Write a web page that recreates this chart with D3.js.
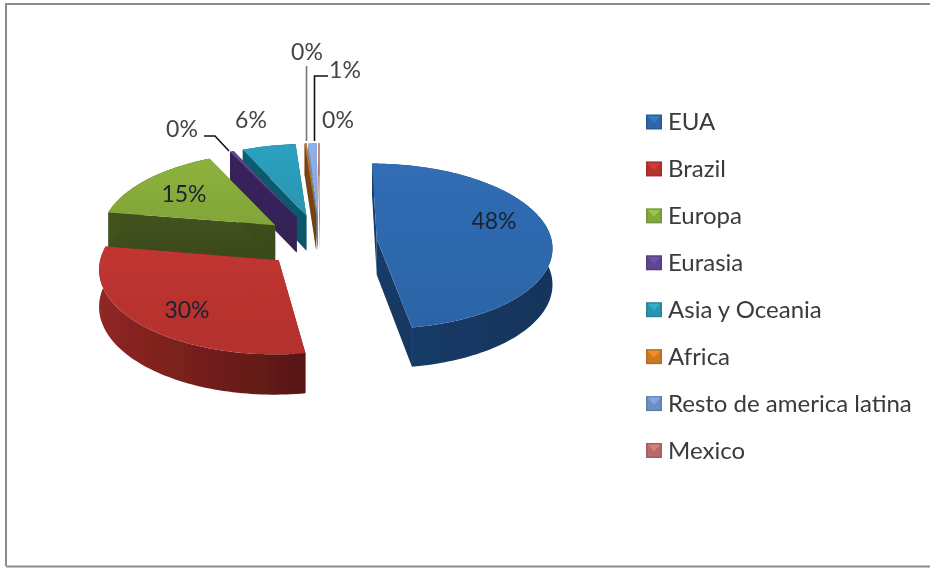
<!DOCTYPE html>
<html><head><meta charset="utf-8">
<style>html,body{margin:0;padding:0;background:#fff}svg{display:block}text{font-family:Lato,"Open Sans",sans-serif}</style>
<script src="https://cdn.jsdelivr.net/npm/d3@7"></script></head><body><div id="c"></div>
<script>
const categories=["EUA","Brazil","Europa","Eurasia","Asia y Oceania","Africa","Resto de america latina","Mexico"];
const shares=[47.5,30.1,15.3,0.4,5.5,0.2,0.85,0.15];
const labels=["48%","30%","15%","0%","6%","0%","1%","0%"];
const topColors=["#2e68ad","#b9332f","#86ab3a","#5a4488","#2a9ab8","#c0701c","#8aaade","#c98a88"];
const sideColors=["#173a66","#8a2421","#3f501c","#37225a","#0f5a6c","#7a4412","#6f8cba","#9a5a58"];
const swatches=["#2f66a8","#b5332f","#84a83c","#5f4690","#2a94ae","#cc7a22","#6e8fc4","#b86a6a"];

const W=930,H=568;
const svg=d3.select("#c").append("svg").attr("width",W).attr("height",H);
const defs=svg.append("defs");
defs.append("filter").attr("id","soft").append("feGaussianBlur").attr("stdDeviation",0.6);
defs.append("filter").attr("id","softText").append("feGaussianBlur").attr("stdDeviation",0.35);
svg.append("path").attr("d",`M6,${H-2}V4H${W}M6,${H-1.5}H${W}`).attr("fill","none").attr("stroke","#8c8c8c").attr("stroke-width",2);

// 3D projection of the exploded pie
const R=175,explode=57,depth=36,persp=2000,tilt=0.47,cx=320,cy=241;
const proj=(x,z,h=0)=>{const f=1/(1+z/persp);return [cx+x*f,cy-tilt*z*f+h*f];};
const pieGen=d3.pie().sort(null).value(d=>d);
const arcs=pieGen(shares).map((a,i)=>{
  const mid=(a.startAngle+a.endAngle)/2;
  return {i,a0:a.startAngle,a1:a.endAngle,ox:explode*Math.sin(mid),oz:explode*Math.cos(mid)};
});
const line=d3.line();
const grad=(id,c,dark,horizontal)=>{
  const g=defs.append("linearGradient").attr("id",id).attr("x1",0).attr("y1",0)
    .attr("x2",horizontal?1:0).attr("y2",horizontal?0:1);
  g.append("stop").attr("offset",0).attr("stop-color",d3.color(c).brighter(0.12));
  g.append("stop").attr("offset",1).attr("stop-color",d3.color(c).darker(dark));
};
arcs.forEach(s=>{grad("t"+s.i,topColors[s.i],0.1,false);grad("s"+s.i,sideColors[s.i],s.i===1?1.3:0.3,true);grad("c"+s.i,sideColors[s.i],s.i===1?1.2:0.2,false);});
const pie=svg.append("g").attr("filter","url(#soft)");
arcs.slice().sort((p,q)=>q.oz-p.oz).forEach(s=>{
  const g=pie.append("g");
  const n=Math.max(2,Math.ceil((s.a1-s.a0)*40));
  const angs=d3.range(n+1).map(k=>s.a0+(s.a1-s.a0)*k/n);
  const rim=h=>angs.map(t=>proj(s.ox+R*Math.sin(t),s.oz+R*Math.cos(t),h));
  const apex=h=>proj(s.ox,s.oz,h);
  const top=rim(0),bot=rim(depth);
  // cut faces
  g.append("path").attr("d",line([apex(0),top[0],bot[0],apex(depth)])+"Z").attr("fill",`url(#c${s.i})`);
  g.append("path").attr("d",line([apex(0),top[n],bot[n],apex(depth)])+"Z").attr("fill",`url(#c${s.i})`);
  // outer wall
  g.append("path").attr("d",line(top.concat(bot.slice().reverse()))+"Z").attr("fill",`url(#s${s.i})`);
  // top face
  g.append("path").attr("d",line([apex(0)].concat(top))+"Z").attr("fill",`url(#t${s.i})`);
});

// leader lines
const leaders=[[[204,136],[215,136],[229,151]],[[306.5,66],[306.5,141]],[[328,76],[314.5,76],[314.5,141]]];
const leaderColors=["#111","#777","#111"];
svg.append("g").selectAll("path").data(leaders).join("path")
  .attr("d",d=>line(d)).attr("fill","none").attr("stroke",(d,i)=>leaderColors[i]).attr("stroke-width",1.6);

// data labels
const labelAt=[[494,221],[187,310],[184,194],[182,129],[251,120],[307,52],[345,70],[338,120]];
const inner=[true,true,true,false,false,false,false,false];
svg.append("g").attr("filter","url(#softText)").selectAll("text").data(labels).join("text")
  .attr("x",(d,i)=>labelAt[i][0]).attr("y",(d,i)=>labelAt[i][1])
  .attr("dy","0.35em").attr("text-anchor","middle").attr("font-size",23)
  .attr("fill",(d,i)=>inner[i]?"#1a2430":"#444").text(d=>d);

// legend
const ly=d3.scalePoint().domain(categories).range([122,450.5]);
const leg=svg.append("g").selectAll("g").data(categories).join("g")
  .attr("transform",d=>`translate(646,${ly(d)})`);
leg.append("rect").attr("x",0).attr("y",-7.5).attr("width",16).attr("height",15).attr("fill",(d,i)=>d3.color(swatches[i]).darker(0.35));
leg.append("rect").attr("x",1.5).attr("y",-6).attr("width",13).attr("height",12).attr("fill",(d,i)=>swatches[i]);
leg.append("path").attr("d","M1.5,-6H14.5L8,1Z").attr("fill",(d,i)=>d3.color(swatches[i]).brighter(0.45));
leg.append("text").attr("x",22).attr("dy","0.35em").attr("font-size",24).attr("fill","#3a3a3a").attr("filter","url(#softText)").text(d=>d);
</script></body></html>
